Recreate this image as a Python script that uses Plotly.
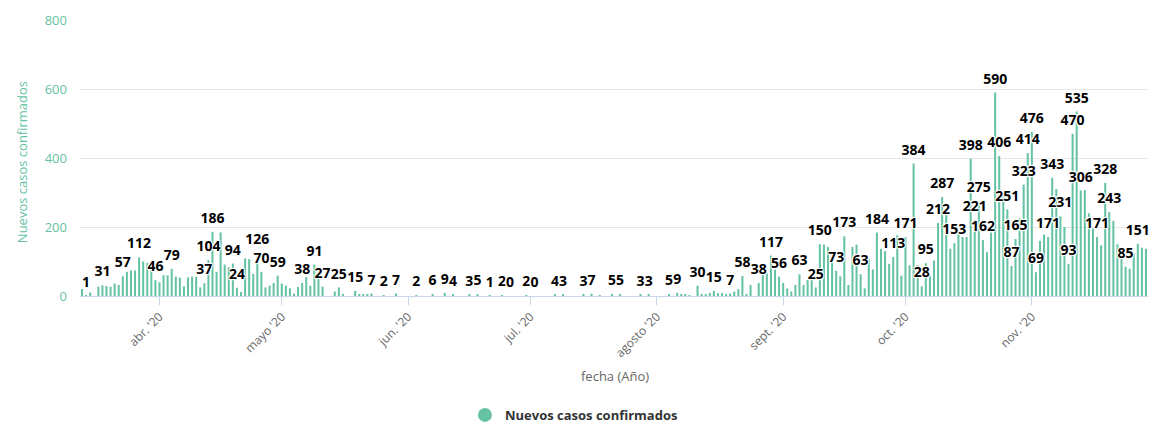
import pandas as pd
import plotly.graph_objects as go

# ---------------- data ----------------
start_date = "2020-03-13"

new_cases = [
    20, 1, 10, 0, 27, 31, 29, 27, 36, 32,          # 0-9
    57, 70, 74, 74, 112, 100, 96, 75, 46, 40,      # 10-19
    60, 60, 79, 56, 53, 28, 54, 56, 56, 25,        # 20-29
    37, 104, 186, 70, 184, 91, 83, 94, 24, 12,     # 30-39
    109, 107, 64, 126, 70, 25, 30, 38, 59, 36,     # 40-49
    30, 22, 7, 26, 38, 55, 30, 91, 55, 27,         # 50-59
    0, 0, 13, 25, 6, 0, 0, 15, 5, 5,               # 60-69
    4, 7, 0, 0, 2, 0, 0, 7, 0, 0,                  # 70-79
    0, 0, 2, 0, 0, 0, 6, 0, 0, 9,                  # 80-89
    0, 4, 0, 0, 0, 3, 0, 5, 0, 0,                  # 90-99
    1, 0, 0, 2, 0, 0, 0, 0, 0, 2,                  # 100-109
    0, 0, 0, 0, 0, 0, 4, 0, 3, 0,                  # 110-119
    0, 0, 0, 3, 0, 7, 0, 2, 0, 0,                  # 120-129
    5, 0, 5, 0, 0, 0, 0, 3, 0, 3,                  # 130-139
    0, 0, 0, 0, 5, 0, 9, 3, 4, 2,                  # 140-149
    0, 30, 6, 5, 9, 15, 8, 9, 5, 7,                # 150-159
    13, 20, 58, 6, 32, 0, 38, 66, 66, 117,         # 160-169
    76, 56, 38, 22, 13, 32, 63, 32, 47, 60,        # 170-179
    25, 150, 149, 142, 118, 73, 57, 173, 32, 142,  # 180-189
    149, 63, 22, 108, 77, 184, 137, 130, 93, 113,  # 190-199
    176, 59, 171, 89, 384, 90, 28, 95, 60, 103,    # 200-209
    212, 287, 244, 137, 153, 184, 171, 171, 398, 221,  # 210-219
    275, 162, 127, 184, 590, 406, 290, 251, 87, 165,   # 220-229
    225, 323, 414, 476, 69, 160, 178, 171, 343, 310,   # 230-239
    231, 200, 93, 470, 535, 306, 307, 240, 196, 171,   # 240-249
    147, 328, 243, 218, 150, 140, 85, 79, 123, 151,    # 250-259
    140, 137,                                          # 260-261
]

# days (index from start_date) whose value label is visible
labeled_days = [
    1, 5, 10, 14, 18, 22, 30, 31, 32, 37, 38, 43, 44, 48, 54, 57, 59, 63, 67,
    71, 74, 77, 82, 86, 89, 91, 95, 97, 100, 103, 105, 109, 111, 116, 118,
    123, 125, 130, 132, 137, 139, 144, 146, 151, 155, 159, 162, 166, 169, 171,
    176, 180, 181, 185, 187, 191, 195, 199, 202, 204, 206, 207, 210, 211, 214,
    218, 219, 220, 221, 224, 225, 227, 228, 229, 231, 232, 233, 234, 237, 238,
    240, 242, 243, 244, 245, 249, 251, 252, 256, 259,
]

month_ticks = ["2020-04-01", "2020-05-01", "2020-06-01", "2020-07-01",
               "2020-08-01", "2020-09-01", "2020-10-01", "2020-11-01"]
month_labels = ["abr. '20", "mayo '20", "jun. '20", "jul. '20",
                "agosto '20", "sept. '20", "oct. '20", "nov. '20"]

y_ticks = [0, 200, 400, 600, 800]

series_name = "Nuevos casos confirmados"
x_title = "fecha (Año)"
y_title = "Nuevos casos confirmados"

# ---------------- figure ----------------
BAR = "#66c2a5"
dates = pd.date_range(start_date, periods=len(new_cases), freq="D")
lab_x = [dates[i] for i in labeled_days]
lab_y = [new_cases[i] for i in labeled_days]

fig = go.Figure()
fig.add_trace(go.Bar(
    x=dates, y=new_cases, marker=dict(color=BAR, line=dict(width=0)),
    width=0.5 * 86400000, showlegend=False, hoverinfo="skip",
))
fig.add_trace(go.Scatter(
    x=lab_x, y=lab_y, mode="markers+text", text=[str(v) for v in lab_y],
    textposition="top center", cliponaxis=False, showlegend=False,
    marker=dict(size=7, opacity=0),
    textfont=dict(family="Open Sans", size=14, color="#000000", weight="bold",
                  shadow="1px 1px 1px #fff, -1px -1px 1px #fff, 1px -1px 1px #fff, -1px 1px 1px #fff"),
    hoverinfo="skip",
))
fig.add_trace(go.Scatter(
    x=[None], y=[None], mode="markers", name=series_name,
    marker=dict(symbol="circle", size=14, color=BAR),
))

# the page body has an 8px margin; the figure is sized so the plot area
# lands at x 80..1148, y 20..296 of the window
fig.update_layout(
    width=1149, height=422,
    margin=dict(l=72, r=9, t=12, b=134, autoexpand=False),
    plot_bgcolor="#ffffff", paper_bgcolor="#ffffff",
    font=dict(family="Open Sans", size=12, color="#666666"),
    bargap=0.5,
    showlegend=True,
    legend=dict(orientation="h", x=0.4625, xanchor="center", y=-0.431, yanchor="middle",
                font=dict(size=13, color="#333333", weight="bold"),
                itemclick=False, itemdoubleclick=False),
    xaxis=dict(
        type="date", automargin=False,
        range=["2020-03-12 12:00", "2020-11-29 12:00"],
        tickvals=month_ticks, ticktext=month_labels, tickangle=-45,
        tickfont=dict(size=12, color="#666666"),
        ticks="outside", ticklen=8, tickcolor="#ccd6eb",
        showline=True, linecolor="#ccd6eb", linewidth=1,
        showgrid=False, zeroline=False,
    ),
    yaxis=dict(
        range=[0, 800], tickvals=y_ticks, automargin=False,
        tickfont=dict(size=13, color=BAR),
        gridcolor="#e6e6e6", gridwidth=1, zeroline=False, showline=False,
        ticks="", ticklabelstandoff=12,
    ),
    annotations=[
        dict(text=y_title, xref="paper", yref="paper", x=-0.0543, y=0.485,
             xanchor="center", yanchor="middle", textangle=-90, showarrow=False,
             font=dict(size=13, color=BAR)),
        dict(text=x_title, xref="paper", yref="paper", x=0.501, y=-0.29,
             xanchor="center", yanchor="middle", showarrow=False,
             font=dict(size=13, color="#666666")),
    ],
)

fig.write_html("out.html")
